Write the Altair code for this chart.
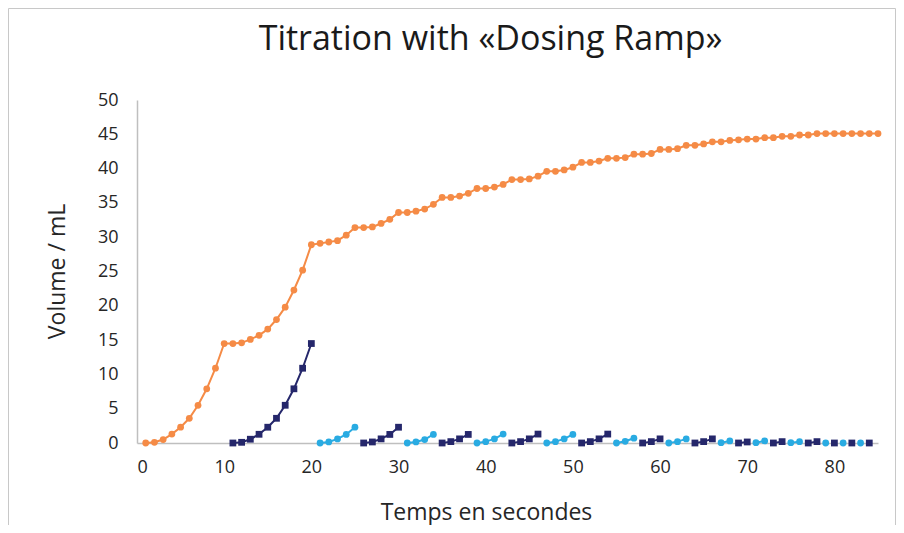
import altair as alt
import pandas as pd

# ---- data ----
orange_t = list(range(1, 86))
orange_v = [0, 0.1, 0.5, 1.3, 2.3, 3.6, 5.5, 7.9, 10.9, 14.5,
            14.5, 14.6, 15.1, 15.7, 16.6, 18.0, 19.8, 22.3, 25.2, 28.9,
            29.1, 29.3, 29.5, 30.3, 31.4, 31.4, 31.5, 32.0, 32.6, 33.6,
            33.6, 33.8, 34.1, 34.8, 35.8, 35.8, 36.0, 36.4, 37.1, 37.1,
            37.3, 37.7, 38.4, 38.4, 38.5, 38.9, 39.6, 39.6, 39.8, 40.2,
            40.9, 40.9, 41.1, 41.5, 41.5, 41.6, 42.1, 42.1, 42.2, 42.8,
            42.8, 42.9, 43.4, 43.4, 43.6, 43.9, 43.9, 44.1, 44.2, 44.3,
            44.3, 44.5, 44.5, 44.7, 44.7, 44.9, 44.9, 45.1, 45.1, 45.1,
            45.1, 45.1, 45.1, 45.1, 45.1]

light_t = [21, 22, 23, 24, 25, 31, 32, 33, 34, 39, 40, 41, 42, 47, 48, 49, 50,
           55, 56, 57, 61, 62, 63, 67, 68, 71, 72, 75, 76, 79, 81, 83]
light_v = [0, 0.15, 0.6, 1.25, 2.3, 0, 0.15, 0.5, 1.25, 0, 0.2, 0.6, 1.3,
           0, 0.2, 0.6, 1.25, 0, 0.25, 0.7, 0, 0.2, 0.6, 0.05, 0.3,
           0.05, 0.3, 0.05, 0.2, 0, 0, 0]
light_seg = [1] * 5 + [2] * 4 + [3] * 4 + [4] * 4 + [5] * 3 + [6] * 3 + \
            [7] * 2 + [8] * 2 + [9] * 2 + [10] + [11] + [12]

dark_t = [11, 12, 13, 14, 15, 16, 17, 18, 19, 20, 26, 27, 28, 29, 30,
          35, 36, 37, 38, 43, 44, 45, 46, 51, 52, 53, 54, 58, 59, 60,
          64, 65, 66, 69, 70, 73, 74, 77, 78, 80, 82, 84]
dark_v = [0, 0.1, 0.55, 1.27, 2.3, 3.6, 5.5, 7.9, 10.9, 14.5,
          0, 0.15, 0.6, 1.25, 2.3, 0, 0.2, 0.6, 1.25, 0, 0.2, 0.6, 1.3,
          0, 0.2, 0.6, 1.3, 0, 0.2, 0.6, 0, 0.2, 0.6, 0, 0.15, 0, 0.2,
          0, 0.2, 0, 0, 0]
dark_seg = [1] * 10 + [2] * 5 + [3] * 4 + [4] * 4 + [5] * 4 + [6] * 3 + \
           [7] * 3 + [8] * 2 + [9] * 2 + [10] * 2 + [11] + [12] + [13]

x_ticks = list(range(0, 81, 10))
y_ticks = list(range(0, 51, 5))

series_names = ["total", "dark", "light"]
series_colors = ["#F58B46", "#25276B", "#29ABE2"]
series_shapes = ["circle", "square", "circle"]

rows = []
for t, v in zip(orange_t, orange_v):
    rows.append({"t": t, "v": v, "series": "total", "key": "total-1"})
for t, v, s in zip(dark_t, dark_v, dark_seg):
    rows.append({"t": t, "v": v, "series": "dark", "key": f"dark-{s}"})
for t, v, s in zip(light_t, light_v, light_seg):
    rows.append({"t": t, "v": v, "series": "light", "key": f"light-{s}"})
df = pd.DataFrame(rows)

FONT = "Open Sans"
TXT = "#262626"

x = alt.X("t:Q",
          scale=alt.Scale(domain=[0, 85], nice=False, zero=False),
          axis=alt.Axis(values=x_ticks, title="Temps en secondes",
                        titleX=349, titleY=69, titleBaseline="middle",
                        titleAlign="center", labelPadding=15))
y = alt.Y("v:Q",
          scale=alt.Scale(domain=[0, 50], nice=False),
          axis=alt.Axis(values=y_ticks, title="Volume / mL",
                        titleX=-80, titleY=171, titleBaseline="middle",
                        titleAlign="center", titleAngle=-90, labelPadding=19))
color = alt.Color("series:N",
                  scale=alt.Scale(domain=series_names, range=series_colors),
                  legend=None)
shape = alt.Shape("series:N",
                  scale=alt.Scale(domain=series_names, range=series_shapes),
                  legend=None)

base = alt.Chart(df)
lines = base.mark_line(strokeWidth=2).encode(
    x=x, y=y, color=color, detail="key:N", order="t:Q")
points = base.mark_point(filled=True, opacity=1, size=46).encode(
    x=x, y=y, color=color, shape=shape)

frame = alt.Chart(pd.DataFrame({"a": [0]})).mark_rect(
    fill=None, stroke="#C8C8C8", strokeWidth=1).encode(
    x=alt.value(-128.5), x2=alt.value(758.5),
    y=alt.value(-91.5), y2=alt.value(500))

chart = alt.layer(frame, lines, points).properties(
    width=741, height=343,
    autosize=alt.AutoSizeParams(type="none"),
    padding={"left": 129, "top": 92, "right": 18, "bottom": 82},
    background="white",
    title=alt.Title("Titration with «Dosing Ramp»", font=FONT, fontSize=34,
                    fontWeight="normal", color="#1a1a1a", anchor="middle",
                    frame="group", baseline="bottom", dx=-17, dy=83, offset=0),
).configure_view(stroke=None).configure_axis(
    grid=False, ticks=False, domainColor="#BFBFBF", domainWidth=1.5,
    labelFont=FONT, labelFontSize=18, labelColor=TXT,
    titleFont=FONT, titleFontSize=23, titleFontWeight="normal", titleColor=TXT,
)

chart.save("out.html", embed_options={"renderer": "svg", "actions": False})
